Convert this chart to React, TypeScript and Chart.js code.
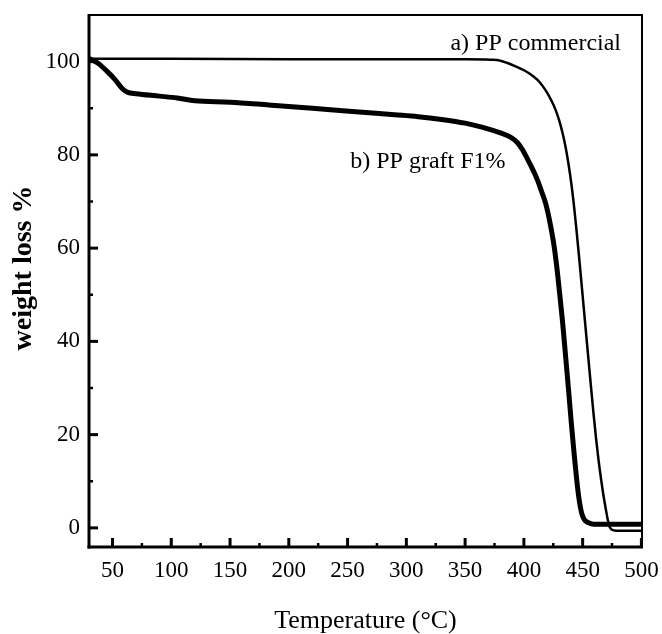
import React, { useEffect, useRef } from "react";
import { Chart, registerables } from "chart.js";

Chart.register(...registerables);

// Series A: PP commercial (thin line)
const tempA = [30, 100, 200, 300, 350, 371.6, 380.1, 386.1, 392.9, 399.7, 405.6, 411.6, 415.9, 420.1, 423.5, 426.9, 429.9, 432.6, 435.4, 438.0, 440.3, 442.5, 444.6, 446.7, 448.8, 450.9, 453.0, 455.1, 457.2, 459.3, 461.4, 463.5, 465.6, 467.7, 469.8, 471.5, 473.0, 475.0, 478.5, 500.5];
const weightA = [100.6, 100.6, 100.5, 100.5, 100.5, 100.4, 100.2, 99.7, 99.0, 98.2, 97.3, 96.1, 94.8, 93.2, 91.6, 89.7, 87.5, 85.0, 81.8, 78.0, 74.0, 69.4, 64.3, 58.8, 53.1, 47.3, 41.5, 35.7, 30.0, 24.4, 19.2, 14.6, 10.6, 7.0, 3.9, 1.6, 0.2, -0.4, -0.6, -0.6];

// Series B: PP graft F1% (thick line)
const tempB = [30, 38, 45, 52, 58, 63, 70, 90, 105, 120, 150, 183, 220, 254, 290, 310, 330, 350, 365, 380.1, 388.6, 394.6, 398.8, 403.1, 407.3, 411.6, 415.0, 418.4, 421.8, 425.2, 427.8, 430.3, 432.9, 435.4, 438.0, 440.5, 443.1, 445.7, 447.4, 449.1, 451.6, 455.0, 459.3, 475, 500.5];
const weightB = [100.7, 99.6, 98.0, 96.2, 94.3, 93.4, 93.1, 92.6, 92.2, 91.6, 91.3, 90.7, 90.0, 89.3, 88.6, 88.2, 87.6, 86.8, 85.9, 84.7, 83.8, 82.6, 81.1, 79.1, 77.0, 74.6, 72.2, 69.7, 66.0, 61.3, 56.4, 50.6, 44.2, 37.1, 29.6, 22.1, 15.0, 8.6, 5.4, 3.2, 1.7, 1.1, 0.8, 0.8, 0.8];

// Tick values
const xMajorTicks = [50, 100, 150, 200, 250, 300, 350, 400, 450, 500];
const xMinorTicks = [75, 125, 175, 225, 275, 325, 375, 425, 475];
const yMajorTicks = [0, 20, 40, 60, 80, 100];
const yMinorTicks = [10, 30, 50, 70, 90];

// Texts
const labelA = "a) PP commercial";
const labelB = "b) PP graft F1%";
const xTitle = "Temperature (°C)";
const yTitle = "weight loss %";

// Label anchors in data coordinates
const anchorA = { x: 337.5, y: 102.5 };
const anchorB = { x: 252.3, y: 77.2 };

const FONT = '"Liberation Serif", "Times New Roman", serif';

const decorPlugin = {
  id: "decor",
  afterDraw(chart: any) {
    const { ctx, chartArea: ca, scales } = chart;
    const x = scales.x;
    const y = scales.y;
    ctx.save();
    ctx.strokeStyle = "#000";
    ctx.fillStyle = "#000";
    ctx.lineCap = "butt";
    const line = (x1: number, y1: number, x2: number, y2: number) => {
      ctx.beginPath();
      ctx.moveTo(x1, y1);
      ctx.lineTo(x2, y2);
      ctx.stroke();
    };
    // inward ticks
    ctx.lineWidth = 3;
    for (const v of xMajorTicks) {
      const px = x.getPixelForValue(v);
      line(px, ca.bottom, px, ca.bottom - 9);
    }
    for (const v of yMajorTicks) {
      const py = y.getPixelForValue(v);
      line(ca.left, py, ca.left + 9, py);
    }
    ctx.lineWidth = 2.5;
    for (const v of xMinorTicks) {
      const px = x.getPixelForValue(v);
      line(px, ca.bottom, px, ca.bottom - 4);
    }
    for (const v of yMinorTicks) {
      const py = y.getPixelForValue(v);
      line(ca.left, py, ca.left + 4, py);
    }
    // frame
    ctx.lineWidth = 2;
    ctx.strokeRect(ca.left, ca.top, ca.right - ca.left, ca.bottom - ca.top);
    ctx.lineWidth = 3;
    line(ca.left, ca.top - 1, ca.left, ca.bottom + 1.5);
    line(ca.left - 1.5, ca.bottom, ca.right + 1, ca.bottom);

    // annotations
    ctx.font = `24px ${FONT}`;
    ctx.textAlign = "left";
    ctx.textBaseline = "alphabetic";
    ctx.fillText(labelA, x.getPixelForValue(anchorA.x), y.getPixelForValue(anchorA.y));
    ctx.fillText(labelB, x.getPixelForValue(anchorB.x), y.getPixelForValue(anchorB.y));

    // x title
    ctx.font = `26px ${FONT}`;
    ctx.textAlign = "center";
    ctx.fillText(xTitle, (ca.left + ca.right) / 2, 628);

    // y title
    ctx.font = `bold 28px ${FONT}`;
    ctx.translate(31, 268);
    ctx.rotate(-Math.PI / 2);
    ctx.textAlign = "center";
    ctx.textBaseline = "alphabetic";
    ctx.fillText(yTitle, 0, 0);
    ctx.restore();
  },
};

export default function App() {
  const ref = useRef<HTMLCanvasElement | null>(null);
  useEffect(() => {
    if (!ref.current) return;
    const chart = new Chart(ref.current, {
      type: "scatter",
      data: {
        datasets: [
          {
            label: labelA,
            data: tempA.map((t, i) => ({ x: t, y: weightA[i] })),
            showLine: true,
            borderColor: "#000",
            borderWidth: 2.5,
            pointRadius: 0,
            cubicInterpolationMode: "monotone",
            fill: false,
          },
          {
            label: labelB,
            data: tempB.map((t, i) => ({ x: t, y: weightB[i] })),
            showLine: true,
            borderColor: "#000",
            borderWidth: 5,
            pointRadius: 0,
            cubicInterpolationMode: "monotone",
            fill: false,
          },
        ],
      },
      options: {
        animation: false,
        responsive: false,
        devicePixelRatio: 1,
        layout: { padding: { left: 0, top: 15, right: 20, bottom: 0 } },
        plugins: { legend: { display: false }, tooltip: { enabled: false } },
        scales: {
          x: {
            type: "linear",
            min: 30,
            max: 500.5,
            grid: { display: false, drawTicks: false },
            border: { display: false },
            afterBuildTicks: (s: any) => {
              s.ticks = xMajorTicks.map((v) => ({ value: v }));
            },
            afterFit: (s: any) => {
              s.height = 87;
              s.paddingLeft = 0;
              s.paddingRight = 0;
              s.paddingTop = 0;
              s.paddingBottom = 0;
            },
            ticks: {
              color: "#000",
              padding: 10,
              maxRotation: 0,
              autoSkip: false,
              font: { family: FONT, size: 23 },
            },
          },
          y: {
            type: "linear",
            min: -4.1,
            max: 110,
            grid: { display: false, drawTicks: false },
            border: { display: false },
            afterBuildTicks: (s: any) => {
              s.ticks = yMajorTicks.map((v) => ({ value: v }));
            },
            afterFit: (s: any) => {
              s.width = 89;
              s.paddingLeft = 0;
              s.paddingRight = 0;
              s.paddingTop = 0;
              s.paddingBottom = 0;
            },
            ticks: {
              color: "#000",
              padding: 9,
              autoSkip: false,
              font: { family: FONT, size: 23 },
            },
          },
        },
      },
      plugins: [decorPlugin],
    } as any);
    return () => chart.destroy();
  }, []);
  return (
    <div style={{ position: "fixed", left: 0, top: 0, width: 662, height: 634, background: "#fff" }}>
      <canvas ref={ref} width={662} height={634} style={{ width: 662, height: 634, display: "block" }} />
    </div>
  );
}
